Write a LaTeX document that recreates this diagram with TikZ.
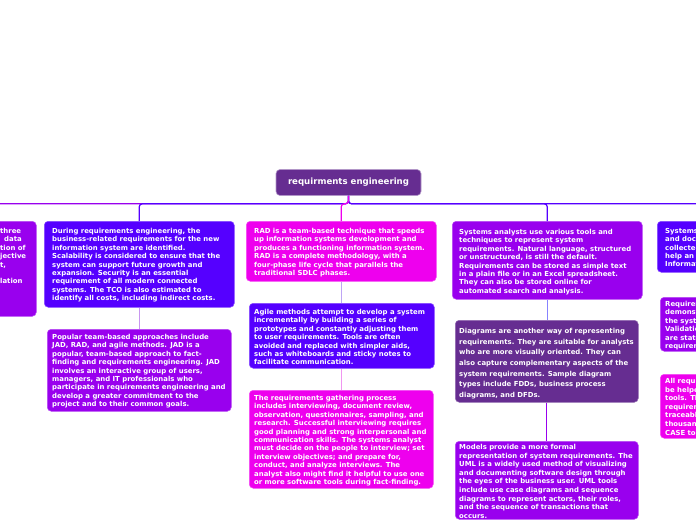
\documentclass[tikz,border=0pt]{standalone}
\usepackage{fontspec}
\newfontfamily\boxfont{DejaVu Sans}
\definecolor{cblue}{RGB}{85,0,255}
\definecolor{cpurple}{RGB}{153,0,238}
\definecolor{cmag}{RGB}{238,0,238}
\definecolor{cdark}{RGB}{102,45,145}
\definecolor{lavA}{RGB}{200,150,240}
\definecolor{lavB}{RGB}{190,165,245}
\definecolor{pinkA}{RGB}{240,150,240}
\definecolor{bluA}{RGB}{135,130,255}
\tikzset{
  box/.style={rounded corners=4pt, inner sep=0pt, anchor=north west, fill=#1, draw=#1!70!white, line width=0.5pt},
  txt/.style={anchor=north west, inner sep=0pt, text=white, align=left, font=\boxfont\bfseries\fontsize{6.9}{8.4}\selectfont},
  conn/.style={line width=1.2pt, rounded corners=3pt},
  sub/.style={line width=1pt},
}
\begin{document}
\begin{tikzpicture}[x=1pt,y=-1pt]
\useasboundingbox (0,0) rectangle (696,520);
\clip (0,0) rectangle (696,520);
% root
\node[rounded corners=4pt, fill=cdark, draw=cdark!50!white, line width=0.6pt, minimum width=145pt, minimum height=26pt, inner sep=0pt, text=white, font=\boxfont\bfseries\fontsize{8.6}{10}\selectfont] (root) at (348.5,182.5) {requirments engineering};
% boxes
\node[box=cpurple, minimum width=186pt, minimum height=95pt] (lp) at (-150,221) {};
\node[box=cblue, minimum width=190pt, minimum height=86pt] (a1) at (44,221) {};
\node[box=cpurple, minimum width=184pt, minimum height=82pt] (a2) at (47,329) {};
\node[box=cmag, minimum width=190pt, minimum height=60pt] (b1) at (246,221) {};
\node[box=cblue, minimum width=185pt, minimum height=65pt] (b2) at (249,303) {};
\node[box=cmag, minimum width=184pt, minimum height=98pt] (b3) at (249,390) {};
\node[box=cpurple, minimum width=190pt, minimum height=78pt] (c1) at (452,221) {};
\node[box=cdark, minimum width=183pt, minimum height=82pt] (c2) at (455,320) {};
\node[box=cpurple, minimum width=183pt, minimum height=78pt] (c3) at (455,441) {};
\node[box=cblue, minimum width=190pt, minimum height=51pt] (d1) at (657,221) {};
\node[box=cpurple, minimum width=184pt, minimum height=54pt] (d2) at (660,297) {};
\node[box=cmag, minimum width=184pt, minimum height=64pt] (d3) at (660,374) {};
% main connectors
\draw[conn, cpurple] (root.south) -- ++(0,8) -| (lp.north);
\draw[conn, cblue] (root.south) -- ++(0,8) -| (a1.north);
\draw[conn, cblue] (root.south) -- ++(0,8) -| (d1.north);
\draw[conn, cblue] (root.south) -- ++(0,8) -| (c1.north);
\draw[conn, cmag] (root.south) -- ++(0,8) -| (b1.north);
% sub connectors
\draw[sub, lavA] (a1.south) -- (a1.south |- a2.north);
\draw[sub, lavB] (b1.south) -- (b1.south |- b2.north);
\draw[sub, pinkA] (b2.south) -- (b2.south |- b3.north);
\draw[sub, bluA] (c1.south) -- (c1.south |- c2.north);
\draw[sub, cpurple] (c2.south) -- (c2.south |- c3.north);
\draw[sub, lavB] (d1.south) -- (d1.south |- d2.north);
\draw[sub, pinkA] (d2.south) -- (d2.south |- d3.north);
% texts
\node[txt] (lpt) at (0,228) {three\\\hspace{4pt}data\\tion of\\jective\\t,\\\mbox{}\\lation};
\node[txt] (a1t) at (52,228) {During requirements engineering, the\\business-related requirements for the new\\information system are identified.\\Scalability is considered to ensure that the\\system can support future growth and\\expansion. Security is an essential\\requirement of all modern connected\\systems. The TCO is also estimated to\\identify all costs, including indirect costs.};
\node[txt] (a2t) at (52,334) {Popular team-based approaches include\\JAD, RAD, and agile methods. JAD is a\\popular, team-based approach to fact-\\finding and requirements engineering. JAD\\involves an interactive group of users,\\managers, and IT professionals who\\participate in requirements engineering and\\develop a greater commitment to the\\project and to their common goals.};
\node[txt] (b1t) at (254,228) {RAD is a team-based technique that speeds\\up information systems development and\\produces a functioning information system.\\RAD is a complete methodology, with a\\four-phase life cycle that parallels the\\traditional SDLC phases.};
\node[txt] (b2t) at (254,309) {Agile methods attempt to develop a system\\incrementally by building a series of\\prototypes and constantly adjusting them\\to user requirements. Tools are often\\avoided and replaced with simpler aids,\\such as whiteboards and sticky notes to\\facilitate communication.};
\node[txt] (b3t) at (254,395) {The requirements gathering process\\includes interviewing, document review,\\observation, questionnaires, sampling, and\\research. Successful interviewing requires\\good planning and strong interpersonal and\\communication skills. The systems analyst\\must decide on the people to interview; set\\interview objectives; and prepare for,\\conduct, and analyze interviews. The\\analyst also might find it helpful to use one\\or more software tools during fact-finding.};
\node[txt] (c1t) at (459,229) {Systems analysts use various tools and\\techniques to represent system\\requirements. Natural language, structured\\or unstructured, is still the default.\\Requirements can be stored as simple text\\in a plain file or in an Excel spreadsheet.\\They can also be stored online for\\automated search and analysis.};
\node[txt, font=\boxfont\bfseries\fontsize{6.9}{10.7}\selectfont] (c2t) at (459,328) {Diagrams are another way of representing\\requirements. They are suitable for analysts\\who are more visually oriented. They can\\also capture complementary aspects of the\\system requirements. Sample diagram\\types include FDDs, business process\\diagrams, and DFDs.};
\node[txt, font=\boxfont\bfseries\fontsize{6.9}{8.6}\selectfont] (c3t) at (459,444) {Models provide a more formal\\representation of system requirements. The\\UML is a widely used method of visualizing\\and documenting software design through\\the eyes of the business user. UML tools\\include use case diagrams and sequence\\diagrams to represent actors, their roles,\\and the sequence of transactions that\\occurs.};
\node[txt] (d1t) at (665,228) {Systems\\and doc\\collected\\help an\\Informat};
\node[txt] (d2t) at (665,301) {Requiren\\demonst\\the syst\\Validatio\\are state\\requirem};
\node[txt, font=\boxfont\bfseries\fontsize{6.9}{8.6}\selectfont] (d3t) at (665,378) {All requ\\be helpe\\tools. Th\\requirem\\traceabl\\thousan\\CASE to};
\end{tikzpicture}
\end{document}
